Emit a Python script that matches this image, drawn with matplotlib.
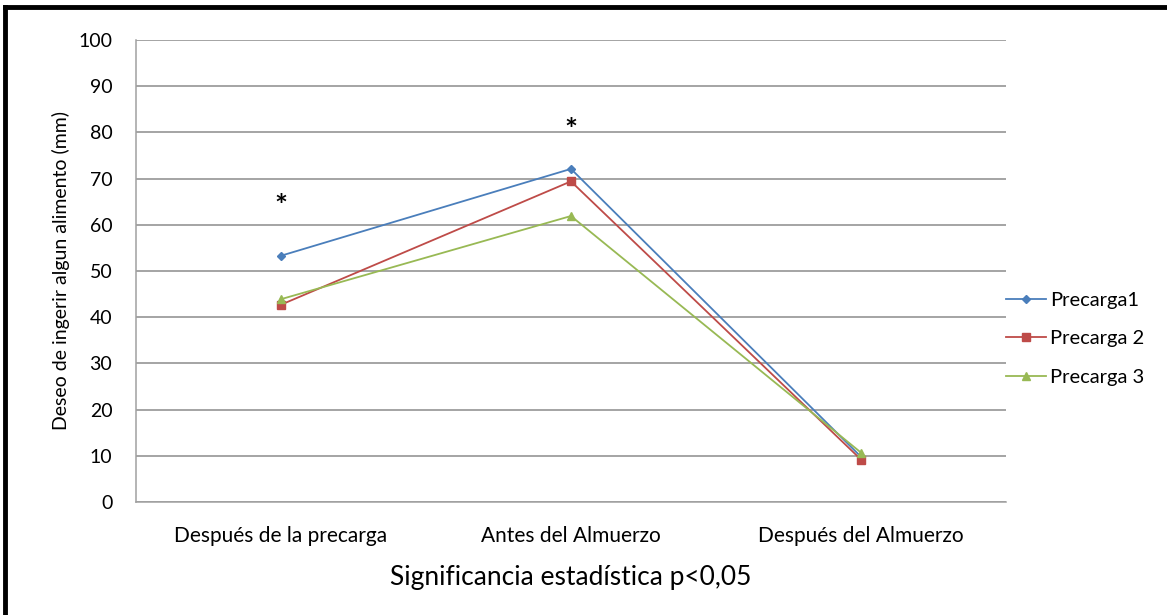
import matplotlib.pyplot as plt
from matplotlib.lines import Line2D

categories = ['Después de la precarga', 'Antes del Almuerzo', 'Después del Almuerzo']
precarga_1 = [53.3, 72.1, 9.8]
precarga_2 = [42.7, 69.4, 9.2]
precarga_3 = [43.9, 61.9, 10.7]
series_labels = ['Precarga1', 'Precarga 2', 'Precarga 3']
star_positions = [(0, 63.8), (1, 80.4)]

plt.rcParams['font.family'] = ['Lato', 'DejaVu Sans']

fig = plt.figure(figsize=(11.67, 6.15), dpi=100)
ax = fig.add_axes([0.1165, 0.1837, 0.862 - 0.1165, 0.935 - 0.1837])

x = list(range(len(categories)))
ax.plot(x, precarga_1, color='#4A7EBB', marker='D', markersize=4, linewidth=1.3, label=series_labels[0])
ax.plot(x, precarga_2, color='#BE4B48', marker='s', markersize=5.5, linewidth=1.3, label=series_labels[1])
ax.plot(x, precarga_3, color='#98B954', marker='^', markersize=6, linewidth=1.3, label=series_labels[2])

for sx, sy in star_positions:
    ax.text(sx, sy, '*', fontsize=22, fontweight='bold', ha='center', va='center', color='black')

ax.set_xlim(-0.5, 2.5)
ax.set_ylim(0, 100)
ax.set_yticks(range(0, 101, 10))
ax.set_xticks(x)
ax.set_xticklabels(categories)
ax.tick_params(axis='both', length=0, colors='black')
ax.tick_params(axis='x', pad=17, labelsize=15)
ax.tick_params(axis='y', pad=17, labelsize=14)
ax.grid(axis='y', color='#8C8C8C', linewidth=1.1)
ax.set_axisbelow(True)
for side in ['top', 'right']:
    ax.spines[side].set_visible(False)
for side in ['left', 'bottom']:
    ax.spines[side].set_color('#A0A0A0')
    ax.spines[side].set_linewidth(1.1)

ax.set_ylabel('Deseo de ingerir algun alimento (mm)', fontsize=14, labelpad=6)
ax.set_xlabel('Significancia estadística p<0,05', fontsize=19, labelpad=14)

ax.legend(loc='center left', bbox_to_anchor=(1.0, 0.353), frameon=False,
          fontsize=14.5, handlelength=2.0, handletextpad=0.2, labelspacing=1.05,
          borderaxespad=0.0, borderpad=0.0)

# thick frame lines at the left and top of the picture
fig.add_artist(Line2D([5 / 1167, 5 / 1167], [0, 1 - 7 / 615], color='black', linewidth=3.5,
                      transform=fig.transFigure))
fig.add_artist(Line2D([5 / 1167, 1], [1 - 7 / 615, 1 - 7 / 615], color='black', linewidth=3.5,
                      transform=fig.transFigure))

fig.savefig('out.png', dpi=100)
